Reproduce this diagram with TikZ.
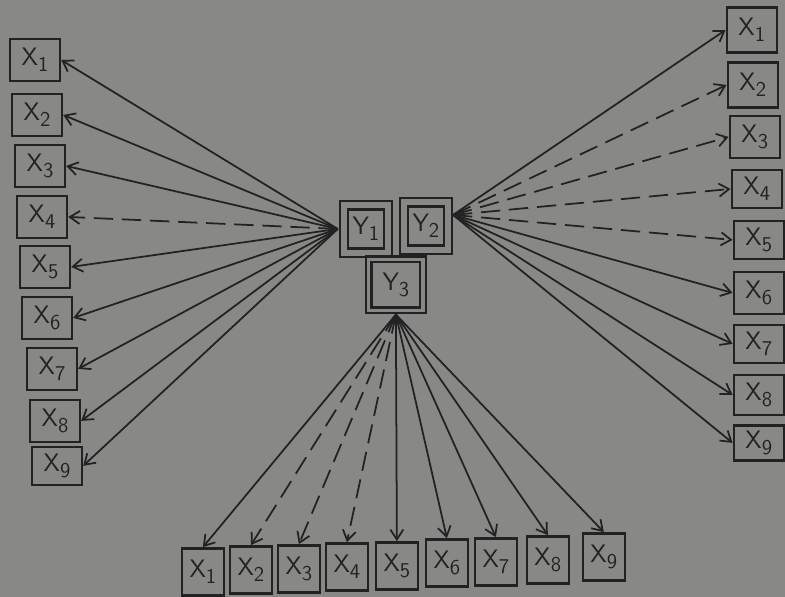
\documentclass[tikz,border=0pt]{standalone}
\usepackage{tikz}
\usetikzlibrary{positioning,arrows.meta}
\definecolor{paper}{RGB}{136,136,134}
\definecolor{ink}{RGB}{34,34,34}
\newcommand{\varlabel}[2]{#1\raisebox{-0.55ex}{\large #2}}

\begin{document}
\begin{tikzpicture}[x=0.02cm,y=-0.02cm,
  xbox/.style={rectangle,draw=ink,line width=1.4pt,minimum width=1cm,minimum height=0.84cm,
               inner sep=0pt,font=\sffamily\Large,text=ink},
  bbox/.style={xbox,minimum width=0.84cm,minimum height=0.94cm},
  ybox/.style={rectangle,draw=ink,line width=1.3pt,double=paper,double distance=3.5pt,
               minimum width=0.88cm,minimum height=0.95cm,inner sep=0pt,
               font=\sffamily\Large,text=ink},
  arrow/.style={-{Straight Barb[length=2mm,width=2.6mm]},line width=1pt,color=ink},
  dasharrow/.style={arrow,dash pattern=on 11pt off 5pt}
]
\fill[paper] (0,0) rectangle (785,597);

% centre
\node[ybox] (y1) at (366,229) {\varlabel{Y}{1}};
\node[ybox] (y2) at (426,226) {\varlabel{Y}{2}};
\node[ybox,double distance=2pt,minimum width=1.09cm,minimum height=1.02cm] (y3) at (396,285) {\varlabel{Y}{3}};
\coordinate (y1l) at ([xshift=-0.1cm]y1.west);
\coordinate (y2r) at ([xshift=0.08cm,yshift=0.22cm]y2.east);
\coordinate (y3b) at ([yshift=-0.06cm]y3.south);

% left column
\node[xbox] (lx1) at (35,60) {\varlabel{X}{1}};
\node[xbox] (lx2) at (37,115) {\varlabel{X}{2}};
\node[xbox] (lx3) at (40,166) {\varlabel{X}{3}};
\node[xbox] (lx4) at (42,217) {\varlabel{X}{4}};
\node[xbox] (lx5) at (45,267) {\varlabel{X}{5}};
\node[xbox] (lx6) at (47,318) {\varlabel{X}{6}};
\node[xbox] (lx7) at (52,369) {\varlabel{X}{7}};
\node[xbox] (lx8) at (55,421) {\varlabel{X}{8}};
\node[xbox,minimum height=0.76cm] (lx9) at (57,466) {\varlabel{X}{9}};

% right column
\node[xbox,minimum height=0.9cm] (rx1) at (752,30) {\varlabel{X}{1}};
\node[xbox,minimum height=0.9cm] (rx2) at (753,85) {\varlabel{X}{2}};
\node[xbox] (rx3) at (755,137) {\varlabel{X}{3}};
\node[xbox,minimum height=0.76cm] (rx4) at (757,189) {\varlabel{X}{4}};
\node[xbox,minimum height=0.76cm] (rx5) at (759,240) {\varlabel{X}{5}};
\node[xbox] (rx6) at (759,293) {\varlabel{X}{6}};
\node[xbox,minimum height=0.76cm] (rx7) at (759,344) {\varlabel{X}{7}};
\node[xbox,minimum height=0.8cm] (rx8) at (759,395) {\varlabel{X}{8}};
\node[xbox,minimum height=0.7cm] (rx9) at (759,443) {\varlabel{X}{9}};

% bottom row
\node[bbox] (bx1) at (203,572) {\varlabel{X}{1}};
\node[bbox] (bx2) at (251,570) {\varlabel{X}{2}};
\node[bbox] (bx3) at (299,569) {\varlabel{X}{3}};
\node[bbox] (bx4) at (347,567) {\varlabel{X}{4}};
\node[bbox] (bx5) at (397,566) {\varlabel{X}{5}};
\node[bbox] (bx6) at (447,563) {\varlabel{X}{6}};
\node[bbox] (bx7) at (496,562) {\varlabel{X}{7}};
\node[bbox] (bx8) at (548,560) {\varlabel{X}{8}};
\node[bbox] (bx9) at (604,557) {\varlabel{X}{9}};

% Y1 -> left
\draw[arrow] (y1l) -- (lx1.east);
\draw[arrow] (y1l) -- (lx2.east);
\draw[arrow] (y1l) -- (lx3.east);
\draw[dasharrow] (y1l) -- (lx4.east);
\draw[arrow] (y1l) -- (lx5.east);
\draw[arrow] (y1l) -- (lx6.east);
\draw[arrow] (y1l) -- (lx7.east);
\draw[arrow] (y1l) -- (lx8.east);
\draw[arrow] (y1l) -- (lx9.east);

% Y2 -> right
\draw[arrow] (y2r) -- (rx1.west);
\draw[dasharrow] (y2r) -- (rx2.west);
\draw[dasharrow] (y2r) -- (rx3.west);
\draw[dasharrow] (y2r) -- (rx4.west);
\draw[dasharrow] (y2r) -- (rx5.west);
\draw[arrow] (y2r) -- (rx6.west);
\draw[arrow] (y2r) -- (rx7.west);
\draw[arrow] (y2r) -- (rx8.west);
\draw[arrow] (y2r) -- (rx9.west);

% Y3 -> bottom
\draw[arrow] (y3b) -- (bx1.north);
\draw[dasharrow] (y3b) -- (bx2.north);
\draw[dasharrow] (y3b) -- (bx3.north);
\draw[dasharrow] (y3b) -- (bx4.north);
\draw[arrow] (y3b) -- (bx5.north);
\draw[arrow] (y3b) -- (bx6.north);
\draw[arrow] (y3b) -- (bx7.north);
\draw[arrow] (y3b) -- (bx8.north);
\draw[arrow] (y3b) -- (bx9.north);
\end{tikzpicture}
\end{document}
